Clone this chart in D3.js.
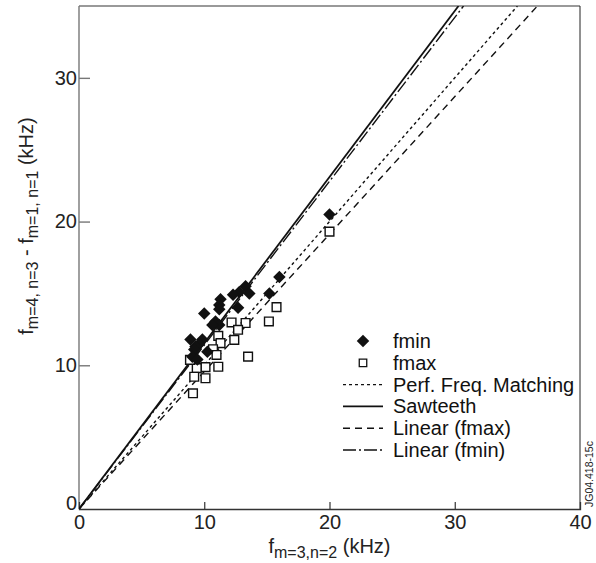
<!DOCTYPE html>
<html>
<head>
<meta charset="utf-8">
<script src="https://cdn.jsdelivr.net/npm/d3@7"></script>
<style>
	body { margin: 0; background: white; }
	svg { display: block; font-family: 'Liberation Sans', Arial, sans-serif; }
</style>
</head>
<body>
<svg id="chart" width="596" height="563"></svg>
<script>
// fmin (filled diamonds), kHz
const fminPoints = [
	[16.0, 16.15], [15.2, 15.0], [13.3, 15.5], [13.6, 15.0], [12.8, 15.1], [12.3, 14.9],
	[11.3, 14.6], [11.2, 14.2], [11.2, 13.9], [12.7, 14.0], [10.0, 13.6], [10.9, 13.05],
	[11.2, 12.8], [10.65, 12.8], [8.9, 11.8], [9.85, 11.8], [9.6, 11.5], [9.3, 11.3],
	[9.2, 11.1], [10.25, 10.95], [9.05, 10.6], [9.45, 10.4], [20.0, 20.5],
];
// fmax (open squares), kHz
const fmaxPoints = [
	[15.77, 14.05], [15.16, 13.05], [13.5, 10.6], [12.18, 12.98], [13.3, 12.94], [12.7, 12.47],
	[12.4, 11.77], [11.12, 12.05], [11.3, 11.54], [10.7, 11.12], [10.98, 10.72], [11.12, 9.9],
	[10.1, 9.87], [9.4, 9.8], [8.86, 10.38], [9.2, 9.2], [10.1, 9.1], [9.1, 8.05], [20.0, 19.3],
];
// reference / fit lines, endpoints
const perfLine = [[0, 0], [35, 35]];
const sawteethLine = [[0, 0], [30.3, 35]];
const linFmaxLine = [[0, 0], [36.6, 35]];
const linFminLine = [[0, 0], [30.7, 35]];

const xTicks = [0, 10, 20, 30, 40];
const yTicks = [0, 10, 20, 30];

const lineSeries = [
	{ name: 'Perf. Freq. Matching', points: perfLine, dash: '3,3', width: 1.4 },
	{ name: 'Sawteeth', points: sawteethLine, dash: null, width: 1.8 },
	{ name: 'Linear (fmax)', points: linFmaxLine, dash: '7,5', width: 1.4 },
	{ name: 'Linear (fmin)', points: linFminLine, dash: '13,3,2,3', width: 1.4 },
];

const margin = { left: 79, right: 580, top: 6, bottom: 509 };
const x = d3.scaleLinear().domain([0, 40]).range([margin.left, margin.right]);
const y = d3.scaleLinear().domain([0, 35]).range([margin.bottom, margin.top]);

const svg = d3.select('#chart');

svg.append('defs').append('clipPath')
	.attr('id', 'plotClip')
	.append('rect')
	.attr('x', margin.left)
	.attr('y', margin.top)
	.attr('width', margin.right - margin.left)
	.attr('height', margin.bottom - margin.top);

// frame
svg.append('line')
	.attr('x1', margin.left).attr('y1', margin.top)
	.attr('x2', margin.right).attr('y2', margin.top)
	.attr('stroke', '#777').attr('stroke-width', 1.4);
svg.append('line')
	.attr('x1', margin.left).attr('y1', margin.top)
	.attr('x2', margin.left).attr('y2', margin.bottom)
	.attr('stroke', '#777').attr('stroke-width', 1.4);
svg.append('line')
	.attr('x1', margin.right).attr('y1', margin.top)
	.attr('x2', margin.right).attr('y2', margin.bottom)
	.attr('stroke', '#222').attr('stroke-width', 1);

// axes, ticks pointing inward
const xAxis = svg.append('g')
	.attr('transform', `translate(0,${margin.bottom})`)
	.call(d3.axisTop(x).tickValues(xTicks).tickSize(7).tickFormat(d3.format('d')));
xAxis.select('.domain').attr('stroke', '#333').attr('stroke-width', 1.3);
xAxis.selectAll('.tick line').attr('stroke', '#333').attr('stroke-width', 1.2)
	.filter((d) => d === 0 || d === 40).remove();
xAxis.selectAll('.tick text')
	.attr('y', 20)
	.attr('font-size', 20)
	.attr('fill', '#222')
	.attr('font-family', "'Liberation Sans', Arial, sans-serif");

const yAxis = svg.append('g')
	.attr('transform', `translate(${margin.left},0)`)
	.call(d3.axisRight(y).tickValues(yTicks).tickSize(11).tickFormat(d3.format('d')));
yAxis.select('.domain').remove();
yAxis.selectAll('.tick line').attr('stroke', '#777').attr('stroke-width', 1.4)
	.filter((d) => d === 0).remove();
yAxis.selectAll('.tick text')
	.attr('x', -2)
	.attr('text-anchor', 'end')
	.attr('font-size', 20)
	.attr('fill', '#222')
	.attr('font-family', "'Liberation Sans', Arial, sans-serif")
	.filter((d) => d === 0).attr('dy', '0.0em');

// lines
const line = d3.line().x((d) => x(d[0])).y((d) => y(d[1]));
const plot = svg.append('g').attr('clip-path', 'url(#plotClip)');
for (const s of lineSeries) {
	plot.append('path')
		.attr('d', line(s.points))
		.attr('fill', 'none')
		.attr('stroke', '#111')
		.attr('stroke-width', s.width)
		.attr('stroke-dasharray', s.dash);
}

// points
const diamond = d3.symbol(d3.symbolSquare, 78);
const square = d3.symbol(d3.symbolSquare, 76);
plot.selectAll('path.fmax').data(fmaxPoints).enter().append('path')
	.attr('class', 'fmax')
	.attr('d', square)
	.attr('transform', (d) => `translate(${x(d[0])},${y(d[1])})`)
	.attr('fill', 'white')
	.attr('stroke', '#111')
	.attr('stroke-width', 1.4);
plot.selectAll('path.fmin').data(fminPoints).enter().append('path')
	.attr('class', 'fmin')
	.attr('d', diamond)
	.attr('transform', (d) => `translate(${x(d[0])},${y(d[1])}) rotate(45)`)
	.attr('fill', '#111');

// legend
const legend = svg.append('g').attr('font-size', 20).attr('fill', '#111');
const legendX = 343;
const legendTextX = 393;
const rowY = (i) => 341 + i * 21.8;
legend.append('path')
	.attr('d', diamond)
	.attr('transform', `translate(${legendX + 20},${rowY(0)}) rotate(45)`)
	.attr('fill', '#111');
legend.append('path')
	.attr('d', d3.symbol(d3.symbolSquare, 56))
	.attr('transform', `translate(${legendX + 20},${rowY(1)})`)
	.attr('fill', 'white')
	.attr('stroke', '#111')
	.attr('stroke-width', 1.3);
const legendNames = ['fmin', 'fmax'].concat(lineSeries.map((s) => s.name));
lineSeries.forEach((s, i) => {
	legend.append('line')
		.attr('x1', legendX).attr('x2', legendX + 40)
		.attr('y1', rowY(i + 2)).attr('y2', rowY(i + 2))
		.attr('stroke', '#111')
		.attr('stroke-width', s.width)
		.attr('stroke-dasharray', s.dash);
});
legendNames.forEach((name, i) => {
	legend.append('text')
		.attr('x', legendTextX)
		.attr('y', rowY(i))
		.attr('dy', '0.35em')
		.text(name);
});

// axis titles
const xTitle = svg.append('text')
	.attr('x', (margin.left + margin.right) / 2)
	.attr('y', 553)
	.attr('text-anchor', 'middle')
	.attr('font-size', 20)
	.attr('fill', '#222');
xTitle.append('tspan').text('f');
xTitle.append('tspan').attr('font-size', 16).attr('dy', 5).text('m=3,n=2');
xTitle.append('tspan').attr('dy', -5).text(' (kHz)');

const yTitle = svg.append('text')
	.attr('transform', `translate(33,${226}) rotate(-90)`)
	.attr('text-anchor', 'middle')
	.attr('font-size', 20)
	.attr('fill', '#222');
yTitle.append('tspan').text('f');
yTitle.append('tspan').attr('font-size', 16).attr('dy', 5).text('m=4, n=3');
yTitle.append('tspan').attr('dy', -5).text(' - f');
yTitle.append('tspan').attr('font-size', 16).attr('dy', 5).text('m=1, n=1');
yTitle.append('tspan').attr('dy', -5).text(' (kHz)');

// figure id
svg.append('text')
	.attr('transform', `translate(593,${margin.bottom - 2}) rotate(-90)`)
	.attr('font-size', 10.5)
	.attr('fill', '#222')
	.text('JG04.418-15c');
</script>
</body>
</html>
